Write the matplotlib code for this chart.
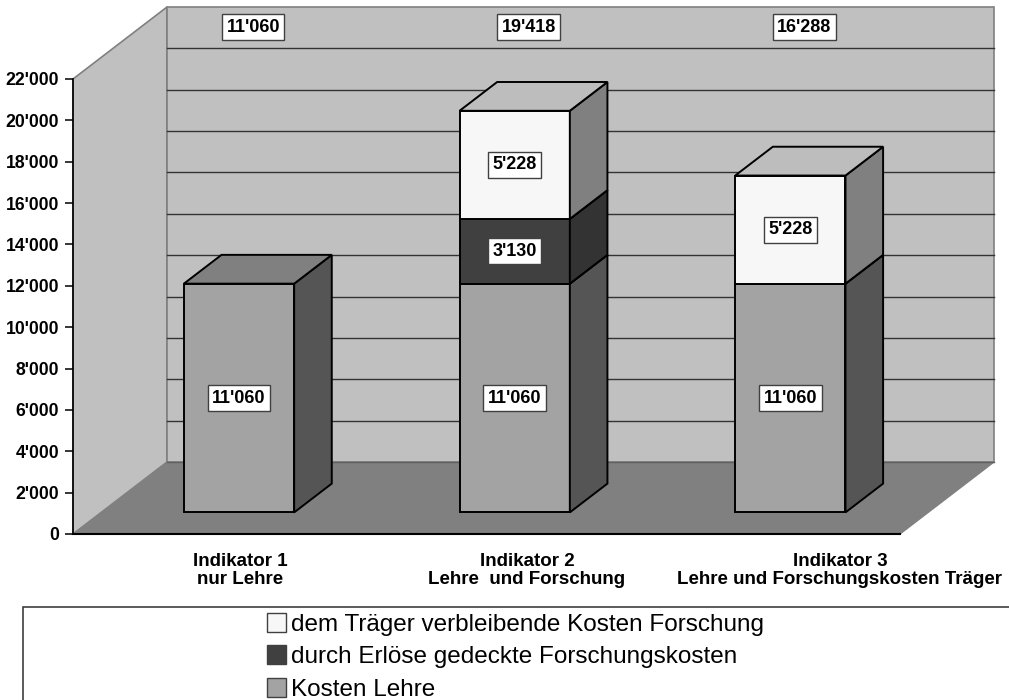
import matplotlib
matplotlib.use("Agg")
import matplotlib.pyplot as plt
from matplotlib.patches import Polygon, Rectangle, Patch

plt.rcParams['font.family'] = ['Liberation Sans', 'DejaVu Sans']

# ---- data ----
categories = ["Indikator 1\nnur Lehre",
              "Indikator 2\nLehre  und Forschung",
              "Indikator 3\nLehre und Forschungskosten Träger"]
kosten_lehre = [11060, 11060, 11060]
erloese_forschung = [0, 3130, 0]
traeger_forschung = [0, 5228, 5228]
totals = [11060, 19418, 16288]
series_names = ["Kosten Lehre",
                "durch Erlöse gedeckte Forschungskosten",
                "dem Träger verbleibende Kosten Forschung"]
yticks = list(range(0, 22001, 2000))

# ---- styles ----
front_cols = ["#A3A3A3", "#404040", "#F7F7F7"]
top_cols = ["#808080", "#5a5a5a", "#BDBDBD"]
side_cols = ["#555555", "#333333", "#808080"]
WALL = "#C0C0C0"
FLOOR = "#808080"
EDGE = "#808080"

def fmt(v):
    return f"{v:,}".replace(",", "'")

W, H = 1009, 700
fig = plt.figure(figsize=(W / 100, H / 100), dpi=100)
ax = fig.add_axes([73 / W, (H - 534) / H, 827 / W, 455 / H])
ymax = 22000
ax.set_xlim(0, 3)
ax.set_ylim(0, ymax)
ax.patch.set_visible(False)

# depth offset (full depth) in data units
DX = 94 / (827 / 3)
DY = 72 / 455 * ymax

def poly(pts, fc, ec, lw=1.0, z=1):
    ax.add_patch(Polygon(pts, closed=True, facecolor=fc, edgecolor=ec,
                         linewidth=lw, clip_on=False, zorder=z, joinstyle='miter'))

# walls and floor
poly([(0, 0), (3, 0), (3 + DX, DY), (DX, DY)], FLOOR, EDGE, 1.0, 0.5)
poly([(0, 0), (0, ymax), (DX, ymax + DY), (DX, DY)], WALL, EDGE, 1.2, 0.5)
poly([(DX, DY), (DX, ymax + DY), (3 + DX, ymax + DY), (3 + DX, DY)], WALL, EDGE, 1.2, 0.5)

# gridlines on back wall
for v in yticks[1:-1]:
    ax.plot([DX, 3 + DX], [v + DY, v + DY], color="#333333", lw=1.0,
            clip_on=False, zorder=0.8)
ax.plot([DX, 3 + DX], [DY, DY], color="#606060", lw=1.0, clip_on=False, zorder=0.8)

# bars
bw = 0.4
f0, f1 = 0.3, 0.7
stack = [kosten_lehre, erloese_forschung, traeger_forschung]
lab_box = dict(boxstyle="square,pad=0.25", facecolor="white", edgecolor="#404040", lw=1.0)
LFS = 13
for i in range(len(categories)):
    c = i + 0.5
    base = 0
    for s, vals in enumerate(stack):
        v = vals[i]
        if v <= 0:
            continue
        x0 = c - bw / 2 + f0 * DX
        x1 = c + bw / 2 + f0 * DX
        y0 = base + f0 * DY
        y1 = base + v + f0 * DY
        ddx = (f1 - f0) * DX
        ddy = (f1 - f0) * DY
        z = 2 + 0.1 * s
        poly([(x0, y0), (x1, y0), (x1, y1), (x0, y1)], front_cols[s], "black", 1.4, z)
        poly([(x1, y0), (x1 + ddx, y0 + ddy), (x1 + ddx, y1 + ddy), (x1, y1)],
             side_cols[s], "black", 1.4, z)
        poly([(x0, y1), (x1, y1), (x1 + ddx, y1 + ddy), (x0 + ddx, y1 + ddy)],
             top_cols[s], "black", 1.4, z)
        ax.text((x0 + x1) / 2, (y0 + y1) / 2, fmt(v), ha="center", va="center",
                fontsize=LFS, fontweight="bold", bbox=lab_box, zorder=5)
        base += v
    # total label at top
    ax.text(c + 0.45 * DX, ymax + 2500, fmt(totals[i]), ha="center", va="center",
            fontsize=LFS, fontweight="bold", bbox=lab_box, zorder=5, clip_on=False)

# category labels
cat_x = [0.606, 1.647, 2.782]
for x, lab in zip(cat_x, categories):
    ax.text(x, -900, lab, ha="center", va="top", fontsize=13.5, fontweight="bold",
            linespacing=1.12, clip_on=False)

# axes styling
for sp in ["top", "right"]:
    ax.spines[sp].set_visible(False)
ax.spines["left"].set_color("black")
ax.spines["left"].set_linewidth(1.2)
ax.spines["bottom"].set_color("black")
ax.spines["bottom"].set_linewidth(1.5)
ax.spines["left"].set_zorder(3)
ax.spines["bottom"].set_zorder(3)
ax.set_xticks([])
ax.set_yticks(yticks)
ax.set_yticklabels([fmt(v) for v in yticks])
ax.tick_params(axis="y", length=6, width=1.1, pad=4, labelsize=12.7)
for t in ax.get_yticklabels():
    t.set_fontweight("bold")

# legend box
fig.patches.append(Rectangle((23 / W, -0.01), 1.0, (H - 607) / H + 0.01,
                             transform=fig.transFigure, facecolor="white",
                             edgecolor="#404040", linewidth=1.2, zorder=0))
handles = [Patch(facecolor=front_cols[s], edgecolor="#404040", linewidth=1.0)
           for s in [2, 1, 0]]
labels = [series_names[s] for s in [2, 1, 0]]
fig.legend(handles, labels, loc="upper left", bbox_to_anchor=(267 / W, 1 - 613 / H),
           frameon=False, prop={"size": 17.5}, handlelength=0.8, handleheight=0.8,
           handletextpad=0.2, labelspacing=0.4, borderpad=0, borderaxespad=0)

fig.savefig("out.png", dpi=100)
